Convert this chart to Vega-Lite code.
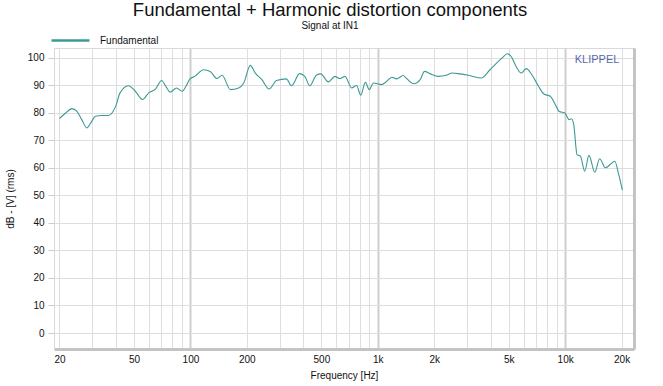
{
  "$schema": "https://vega.github.io/schema/vega-lite/v6.json",
  "width": 580,
  "height": 301,
  "autosize": {"type": "none"},
  "padding": {"left": 54, "top": 48, "right": 29, "bottom": 37},
  "background": "white",
  "config": {
    "font": "Liberation Sans",
    "view": {"stroke": "#d9d9d9", "strokeWidth": 1}
  },
  "title": {
    "text": "Fundamental + Harmonic distortion components",
    "subtitle": "Signal at IN1",
    "fontSize": 18.5,
    "fontWeight": "normal",
    "color": "#111111",
    "subtitleFontSize": 10,
    "subtitleColor": "#111111",
    "subtitlePadding": 2,
    "anchor": "middle",
    "dx": -14,
    "offset": -11
  },
  "data": {
    "values": [
      {"freq": 20, "db": 77.9},
      {"freq": 21.5, "db": 79.8},
      {"freq": 23.3, "db": 81.5},
      {"freq": 24.8, "db": 80.5},
      {"freq": 26.3, "db": 77.5},
      {"freq": 28.0, "db": 74.5},
      {"freq": 29.5, "db": 76.5},
      {"freq": 31.1, "db": 78.7},
      {"freq": 33.8, "db": 79.0},
      {"freq": 36.3, "db": 79.0},
      {"freq": 39.9, "db": 82.3},
      {"freq": 42.1, "db": 87.2},
      {"freq": 46.7, "db": 89.8},
      {"freq": 50.8, "db": 87.8},
      {"freq": 55.5, "db": 84.8},
      {"freq": 59.9, "db": 87.2},
      {"freq": 65.1, "db": 88.6},
      {"freq": 70.2, "db": 91.7},
      {"freq": 74.0, "db": 89.5},
      {"freq": 78.0, "db": 87.5},
      {"freq": 84.3, "db": 89.0},
      {"freq": 90.2, "db": 87.8},
      {"freq": 99.9, "db": 92.4},
      {"freq": 105.4, "db": 93.2},
      {"freq": 117.6, "db": 95.6},
      {"freq": 127.4, "db": 95.0},
      {"freq": 138.6, "db": 92.4},
      {"freq": 147.5, "db": 93.6},
      {"freq": 163.4, "db": 88.4},
      {"freq": 180.8, "db": 89.0},
      {"freq": 192.6, "db": 90.8},
      {"freq": 208.7, "db": 97.2},
      {"freq": 222, "db": 94.4},
      {"freq": 240.5, "db": 92.0},
      {"freq": 262.9, "db": 88.6},
      {"freq": 288, "db": 91.7},
      {"freq": 325, "db": 92.3},
      {"freq": 346, "db": 89.8},
      {"freq": 383, "db": 94.2},
      {"freq": 408, "db": 93.2},
      {"freq": 433, "db": 89.8},
      {"freq": 470, "db": 93.6},
      {"freq": 496, "db": 94.1},
      {"freq": 545, "db": 91.2},
      {"freq": 590, "db": 93.2},
      {"freq": 626, "db": 92.4},
      {"freq": 668, "db": 93.2},
      {"freq": 725, "db": 89.0},
      {"freq": 770, "db": 89.9},
      {"freq": 811, "db": 86.4},
      {"freq": 858, "db": 91.0},
      {"freq": 900, "db": 88.4},
      {"freq": 948, "db": 90.8},
      {"freq": 1043, "db": 90.2},
      {"freq": 1097, "db": 91.0},
      {"freq": 1193, "db": 92.9},
      {"freq": 1258, "db": 92.3},
      {"freq": 1367, "db": 93.5},
      {"freq": 1416, "db": 92.6},
      {"freq": 1552, "db": 90.5},
      {"freq": 1683, "db": 92.0},
      {"freq": 1775, "db": 95.0},
      {"freq": 1900, "db": 94.2},
      {"freq": 2100, "db": 93.2},
      {"freq": 2316, "db": 93.6},
      {"freq": 2500, "db": 94.4},
      {"freq": 2740, "db": 94.1},
      {"freq": 3040, "db": 93.6},
      {"freq": 3570, "db": 92.6},
      {"freq": 3970, "db": 95.6},
      {"freq": 4610, "db": 99.9},
      {"freq": 4910, "db": 101.4},
      {"freq": 5140, "db": 100.5},
      {"freq": 5470, "db": 96.8},
      {"freq": 5830, "db": 94.4},
      {"freq": 6200, "db": 96.0},
      {"freq": 6640, "db": 93.8},
      {"freq": 7210, "db": 89.6},
      {"freq": 7700, "db": 86.8},
      {"freq": 8330, "db": 86.0},
      {"freq": 8870, "db": 82.9},
      {"freq": 9300, "db": 80.4},
      {"freq": 9950, "db": 79.9},
      {"freq": 10500, "db": 77.5},
      {"freq": 10800, "db": 77.8},
      {"freq": 11110, "db": 75.7},
      {"freq": 11570, "db": 64.8},
      {"freq": 12060, "db": 64.2},
      {"freq": 12720, "db": 58.8},
      {"freq": 13390, "db": 64.5},
      {"freq": 14400, "db": 58.4},
      {"freq": 15270, "db": 63.3},
      {"freq": 16400, "db": 60.0},
      {"freq": 17800, "db": 61.8},
      {"freq": 18400, "db": 62.4},
      {"freq": 19300, "db": 57.6},
      {"freq": 20200, "db": 51.9}
    ]
  },
  "layer": [
    {
      "mark": {"type": "line", "strokeWidth": 1.1, "interpolate": "monotone", "clip": true},
      "encoding": {
        "x": {
          "field": "freq",
          "type": "quantitative",
          "scale": {"type": "log", "domain": [18.7, 23300], "nice": false},
          "axis": {
            "title": "Frequency [Hz]",
            "titleFontSize": 10,
            "titleFontWeight": "normal",
            "titleColor": "#111111",
            "titlePadding": 6,
            "values": [20, 30, 40, 50, 60, 70, 80, 90, 100, 200, 300, 400, 500, 600, 700, 800, 900, 1000, 2000, 3000, 4000, 5000, 6000, 7000, 8000, 9000, 10000, 20000],
            "labelExpr": "indexof([20,50,100,200,500,1000,2000,5000,10000,20000], datum.value) >= 0 ? (datum.value >= 1000 ? (datum.value/1000) + 'k' : datum.value + '') : ''",
            "labelFontSize": 10,
            "labelColor": "#111111",
            "labelPadding": 5,
            "labelFlush": false,
            "labelOverlap": false,
            "ticks": false,
            "grid": true,
            "gridColor": {"condition": {"test": "datum.value == 100 || datum.value == 1000 || datum.value == 10000", "value": "#cfcfcf"}, "value": "#dedede"},
            "gridWidth": {"condition": {"test": "datum.value == 100 || datum.value == 1000 || datum.value == 10000", "value": 2}, "value": 1},
            "domainColor": "#c4c4c4",
            "domainWidth": 3
          }
        },
        "y": {
          "field": "db",
          "type": "quantitative",
          "scale": {"domain": [-5.8, 103.5], "nice": false, "zero": false},
          "axis": {
            "title": "dB - [V] (rms)",
            "titleFontSize": 10,
            "titleFontWeight": "normal",
            "titleColor": "#111111",
            "titlePadding": 12,
            "values": [0, 10, 20, 30, 40, 50, 60, 70, 80, 90, 100],
            "labelFontSize": 10,
            "labelColor": "#111111",
            "labelPadding": 4,
            "tickSize": 6,
            "tickColor": "#cccccc",
            "grid": true,
            "gridColor": "#dedede",
            "domainColor": "#d9d9d9"
          }
        },
        "color": {
          "datum": "Fundamental",
          "type": "nominal",
          "scale": {"range": ["#3d9995"]},
          "legend": {
            "title": null,
            "orient": "none",
            "legendX": -4,
            "legendY": -28,
            "symbolType": "stroke",
            "symbolSize": 1444,
            "symbolStrokeWidth": 2.5,
            "symbolStrokeColor": "#1f7f79",
            "labelFontSize": 10,
            "labelColor": "#111111",
            "labelOffset": 9
          }
        }
      }
    },
    {
      "data": {"values": [{"label": "KLIPPEL"}]},
      "mark": {"type": "text", "fontSize": 11, "color": "#5a68a8", "font": "Liberation Sans"},
      "encoding": {
        "x": {"datum": 14800, "type": "quantitative", "scale": {"type": "log", "domain": [18.7, 23300], "nice": false}},
        "y": {
          "datum": 99,
          "type": "quantitative",
          "scale": {"domain": [-5.8, 103.5], "nice": false, "zero": false},
          "axis": {"orient": "right", "labels": false, "ticks": false, "grid": false, "title": null, "domainColor": "#c4c4c4", "domainWidth": 3}
        },
        "text": {"field": "label"}
      }
    }
  ],
  "resolve": {"axis": {"y": "independent"}}
}
